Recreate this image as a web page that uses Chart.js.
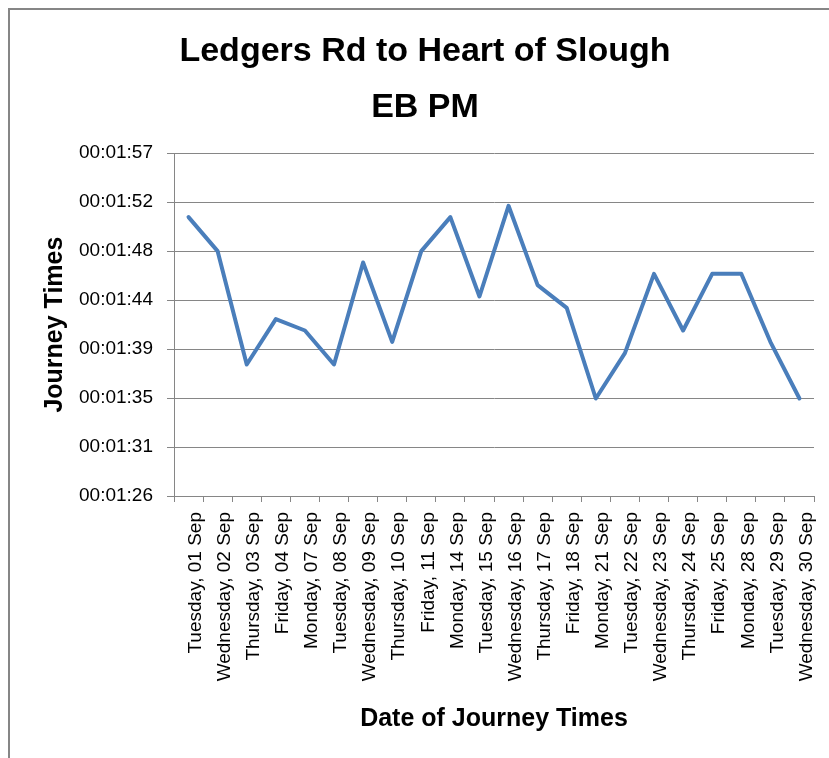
<!DOCTYPE html>
<html>
<head>
<meta charset="utf-8">
<title>Ledgers Rd to Heart of Slough EB PM</title>
<script src="https://cdn.jsdelivr.net/npm/chart.js@4.4.0/dist/chart.umd.min.js"></script>
<style>
  html, body { margin: 0; padding: 0; background: #fff; overflow: hidden; }
  #frame {
    position: absolute; left: 8px; top: 8px;
    width: 900px; height: 900px;
    border: 2px solid #868686;
  }
  #journeyChart { position: absolute; left: 0; top: 0; }
</style>
</head>
<body>
<div id="frame"></div>
<canvas id="journeyChart" width="829" height="758"></canvas>
<script>
// ---------------- data ----------------
var journeyDates = [
  "Tuesday, 01 Sep", "Wednesday, 02 Sep", "Thursday, 03 Sep", "Friday, 04 Sep",
  "Monday, 07 Sep", "Tuesday, 08 Sep", "Wednesday, 09 Sep", "Thursday, 10 Sep",
  "Friday, 11 Sep", "Monday, 14 Sep", "Tuesday, 15 Sep", "Wednesday, 16 Sep",
  "Thursday, 17 Sep", "Friday, 18 Sep", "Monday, 21 Sep", "Tuesday, 22 Sep",
  "Wednesday, 23 Sep", "Thursday, 24 Sep", "Friday, 25 Sep", "Monday, 28 Sep",
  "Tuesday, 29 Sep", "Wednesday, 30 Sep"
];

// journey times as hh:mm:ss
var journeyTimes = [
  "00:01:51", "00:01:48", "00:01:38", "00:01:42", "00:01:41", "00:01:38",
  "00:01:47", "00:01:40", "00:01:48", "00:01:51", "00:01:44", "00:01:52",
  "00:01:45", "00:01:43", "00:01:35", "00:01:39", "00:01:46", "00:01:41",
  "00:01:46", "00:01:46", "00:01:40", "00:01:35"
];

// axis ticks in seconds (excel time axis, step of 0.00005 day)
var yTickValues = [86.4, 90.72, 95.04, 99.36, 103.68, 108, 112.32, 116.64];

// ---------------- helpers ----------------
function toSeconds(t) {
  var p = t.split(":");
  return (+p[0]) * 3600 + (+p[1]) * 60 + (+p[2]);
}

function pad(n) {
  return (n < 10 ? "0" : "") + n;
}

function toClock(sec) {
  var s = Math.round(sec);
  return pad(Math.floor(s / 3600)) + ":" + pad(Math.floor(s / 60) % 60) + ":" + pad(s % 60);
}

var gridGrey = "#868686";
var labelFont = { family: "'Liberation Sans', Arial, sans-serif", size: 19 };
var boldFont = { family: "'Liberation Sans', Arial, sans-serif", size: 25, weight: "bold" };

// ---------------- chart ----------------
var ctx = document.getElementById("journeyChart").getContext("2d");

var journeyChart = new Chart(ctx, {
  type: "line",
  data: {
    labels: journeyDates,
    datasets: [{
      label: "Journey Times",
      data: journeyTimes.map(toSeconds),
      borderColor: "#4A7EBB",
      backgroundColor: "#4A7EBB",
      borderWidth: 4,
      borderJoinStyle: "round",
      borderCapStyle: "round",
      pointRadius: 0,
      tension: 0,
      fill: false
    }]
  },
  options: {
    responsive: false,
    animation: false,
    layout: { padding: { left: 21, right: 0, top: 0, bottom: 0 } },
    scales: {
      x: {
        type: "category",
        offset: true,
        afterFit: function (scale) {
          scale.height = 262;
          scale.paddingLeft = 0;
          scale.paddingRight = 15;
        },
        grid: {
          offset: true,
          drawOnChartArea: false,
          drawTicks: true,
          tickLength: 6,
          color: gridGrey
        },
        border: { display: true, color: gridGrey, width: 1 },
        ticks: {
          autoSkip: false,
          maxRotation: 90,
          minRotation: 90,
          padding: 10,
          labelOffset: 7,
          color: "#000",
          font: labelFont
        },
        title: {
          display: true,
          text: "Date of Journey Times",
          color: "#000",
          font: boldFont,
          padding: { top: 0, bottom: 24 }
        }
      },
      y: {
        type: "linear",
        min: yTickValues[0],
        max: yTickValues[yTickValues.length - 1],
        afterFit: function (scale) { scale.width = 153; },
        afterBuildTicks: function (scale) {
          scale.ticks = yTickValues.map(function (v) { return { value: v }; });
        },
        grid: {
          color: gridGrey,
          lineWidth: 1,
          drawTicks: true,
          tickLength: 7
        },
        border: { display: true, color: gridGrey, width: 1 },
        ticks: {
          padding: 14,
          color: "#000",
          font: labelFont,
          callback: function (value) { return toClock(value); }
        },
        title: {
          display: true,
          text: "Journey Times",
          color: "#000",
          font: boldFont,
          padding: { top: 19, bottom: 0 }
        }
      }
    },
    plugins: {
      legend: { display: false },
      tooltip: { enabled: false },
      title: {
        display: true,
        text: ["Ledgers Rd to Heart of Slough", "EB PM"],
        color: "#000",
        font: {
          family: "'Liberation Sans', Arial, sans-serif",
          size: 34,
          weight: "bold",
          lineHeight: 1.65
        },
        padding: { top: 23.5, bottom: 17.5 }
      }
    }
  }
});
</script>
</body>
</html>
